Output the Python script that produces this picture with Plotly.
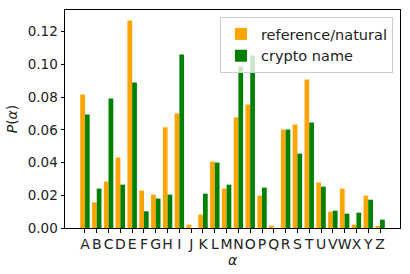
import plotly.graph_objects as go

letters = list("ABCDEFGHIJKLMNOPQRSTUVWXYZ")
reference_natural = [0.0816, 0.0157, 0.0284, 0.0431, 0.1269, 0.0229, 0.0204, 0.0616,
                     0.0700, 0.0020, 0.0082, 0.0406, 0.0241, 0.0676, 0.0755, 0.0198,
                     0.0014, 0.0602, 0.0633, 0.0908, 0.0278, 0.0100, 0.0241, 0.0020,
                     0.0198, 0.0008]
crypto_name = [0.0694, 0.0241, 0.0792, 0.0265, 0.0890, 0.0102, 0.0180, 0.0204,
               0.1061, 0.0, 0.0210, 0.0400, 0.0265, 0.0988, 0.1055, 0.0247,
               0.0, 0.0602, 0.0455, 0.0645, 0.0253, 0.0106, 0.0088, 0.0094,
               0.0173, 0.0051]
idx = list(range(len(letters)))

fig = go.Figure()
fig.add_trace(go.Bar(x=idx, y=reference_natural, width=0.4, offset=-0.4,
                     marker=dict(color="orange", line=dict(width=0)),
                     name="reference/natural"))
fig.add_trace(go.Bar(x=idx, y=crypto_name, width=0.4, offset=0.0,
                     marker=dict(color="green", line=dict(width=0)),
                     name="crypto name"))

fig.update_layout(
    width=410, height=274,
    margin=dict(l=65, r=10, t=10, b=46),
    plot_bgcolor="white", paper_bgcolor="white",
    font=dict(family="DejaVu Sans", size=13, color="#222"),
    barmode="overlay",
    showlegend=True,
    legend=dict(x=0.979, y=0.968, xanchor="right", yanchor="top",
                bgcolor="rgba(255,255,255,0.8)", bordercolor="#cccccc", borderwidth=1,
                font=dict(size=14.5), itemwidth=30, tracegroupgap=2),
    xaxis=dict(range=[-1.69, 26.69], tickmode="array", tickvals=idx, ticktext=letters,
               tickangle=0, tickfont=dict(size=14),
               ticks="outside", ticklen=3.5, tickwidth=0.8, tickcolor="black",
               showline=True, linecolor="black", linewidth=1, mirror=True,
               showgrid=False, zeroline=False,
               title=dict(text="<i>α</i>", standoff=2, font=dict(size=14))),
    yaxis=dict(range=[0, 0.1333], tickmode="linear", tick0=0, dtick=0.02, tickformat=".2f",
               tickfont=dict(size=13.5),
               ticks="outside", ticklen=3.5, tickwidth=0.8, tickcolor="black",
               showline=True, linecolor="black", linewidth=1, mirror=True,
               showgrid=False, zeroline=False,
               title=dict(text="<i>P</i>(<i>α</i>)", standoff=6, font=dict(size=14))),
)

fig.write_html("out.html")
